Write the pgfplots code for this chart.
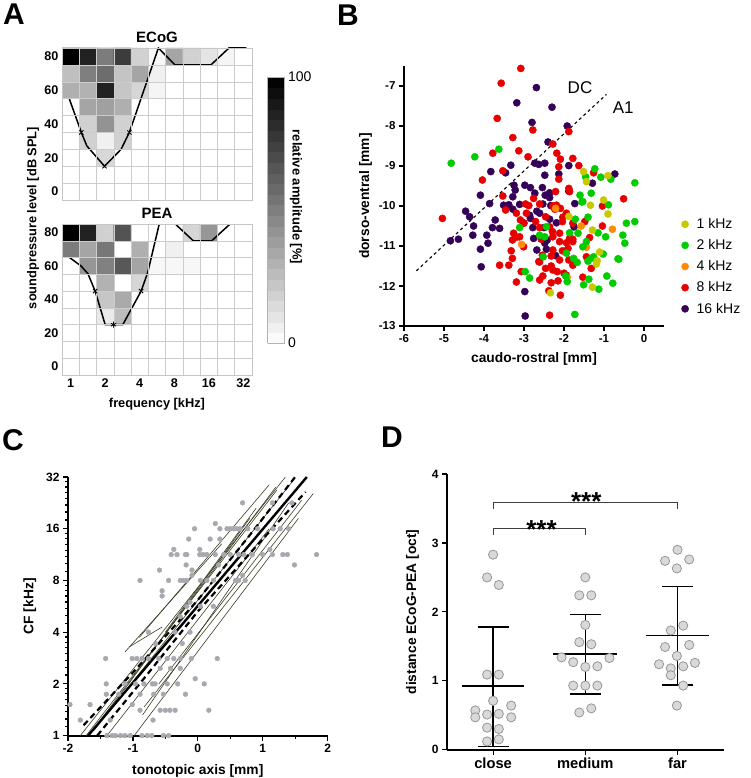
\documentclass[border=0pt]{standalone}
\usepackage{fontspec}
\setmainfont{Liberation Sans}
\usepackage{pgfplots}
\pgfplotsset{compat=1.18}
\newcommand{\fs}[1]{\fontsize{#1}{#1}\selectfont}
\definecolor{khzA}{RGB}{200,200,0}
\definecolor{khzB}{RGB}{0,205,0}
\definecolor{khzC}{RGB}{255,140,0}
\definecolor{khzD}{RGB}{232,0,0}
\definecolor{khzE}{RGB}{52,0,88}
\definecolor{ptgray}{RGB}{168,168,175}
\definecolor{thinl}{RGB}{60,60,35}
\definecolor{dfill}{RGB}{217,217,217}
\definecolor{dedge}{RGB}{150,150,150}
\pgfplotsset{
  /pgf/number format/assume math mode=true,
  gp/.style={scale only axis, axis x line*=bottom, axis y line*=left,
    axis line style={line width=1.6pt, black},
    every tick/.style={black, line width=1.2pt},
    tick align=outside, major tick length=5pt, minor tick length=3pt,
    ticklabel style={font=\bfseries\fs{12}},
    label style={font=\bfseries\fs{13.8}},
    clip=false},
  hm/.style={scale only axis, width=190pt, xmin=0, xmax=11, ymin=-5, ymax=85,
    axis line style={gray!45, line width=0.6pt},
    xtick={0.5,2.5,4.5,6.5,8.5,10.5}, xticklabels={1,2,4,8,16,32},
    ytick={0,20,40,60,80},
    major tick length=0pt, minor tick length=0pt,
    minor xtick={0,...,11}, minor ytick={-5,5,...,85},
    xminorgrids, yminorgrids, minor grid style={gray!40, line width=0.5pt},
    axis on top,
    colormap={bw}{gray(0cm)=(1); gray(1cm)=(0)},
    point meta min=0, point meta max=100,
    ticklabel style={font=\bfseries\fs{12.6}},
    label style={font=\bfseries\fs{12.8}},
    title style={font=\bfseries\fs{15}, yshift=-4pt},
  },
}
\begin{document}
\begin{tikzpicture}
\path[use as bounding box] (0pt,0pt) rectangle (750pt,-778pt);
% ---------------- Panel A : ECoG
\begin{axis}[hm, at={(62pt,-48pt)}, anchor=north west, height=152pt, xticklabels={}, title={ECoG},
  colorbar sampled, colorbar style={at={(parent axis.north east)}, anchor=north west, xshift=7pt, yshift=-29pt,
    scale only axis, width=17pt, height=266pt, ytick={0,100}, yticklabel pos=right, samples=26,
    yticklabel style={font=\fs{14}}, axis line style={gray!60}, major tick length=0pt,
    minor ytick={}, yminorgrids=false, xminorgrids=false, title={}}]
\addplot[matrix plot*, mesh/cols=11, point meta=explicit] table[row sep=\\, meta=c] {
x y c\\
0.5 0 0\\ 1.5 0 0\\ 2.5 0 0\\ 3.5 0 0\\ 4.5 0 0\\ 5.5 0 0\\ 6.5 0 0\\ 7.5 0 0\\ 8.5 0 0\\ 9.5 0 0\\ 10.5 0 0\\
0.5 10 0\\ 1.5 10 0\\ 2.5 10 0\\ 3.5 10 0\\ 4.5 10 0\\ 5.5 10 0\\ 6.5 10 0\\ 7.5 10 0\\ 8.5 10 0\\ 9.5 10 0\\ 10.5 10 0\\
0.5 20 0\\ 1.5 20 0\\ 2.5 20 15\\ 3.5 20 0\\ 4.5 20 0\\ 5.5 20 0\\ 6.5 20 0\\ 7.5 20 0\\ 8.5 20 0\\ 9.5 20 0\\ 10.5 20 0\\
0.5 30 0\\ 1.5 30 18\\ 2.5 30 6\\ 3.5 30 18\\ 4.5 30 0\\ 5.5 30 0\\ 6.5 30 0\\ 7.5 30 0\\ 8.5 30 0\\ 9.5 30 0\\ 10.5 30 0\\
0.5 40 0\\ 1.5 40 18\\ 2.5 40 42\\ 3.5 40 18\\ 4.5 40 0\\ 5.5 40 0\\ 6.5 40 0\\ 7.5 40 0\\ 8.5 40 0\\ 9.5 40 0\\ 10.5 40 0\\
0.5 50 0\\ 1.5 50 35\\ 2.5 50 37\\ 3.5 50 31\\ 4.5 50 0\\ 5.5 50 0\\ 6.5 50 0\\ 7.5 50 0\\ 8.5 50 0\\ 9.5 50 0\\ 10.5 50 0\\
0.5 60 31\\ 1.5 60 30\\ 2.5 60 86\\ 3.5 60 22\\ 4.5 60 16\\ 5.5 60 4\\ 6.5 60 0\\ 7.5 60 0\\ 8.5 60 0\\ 9.5 60 0\\ 10.5 60 0\\
0.5 70 25\\ 1.5 70 50\\ 2.5 70 57\\ 3.5 70 23\\ 4.5 70 35\\ 5.5 70 6\\ 6.5 70 0\\ 7.5 70 0\\ 8.5 70 0\\ 9.5 70 0\\ 10.5 70 0\\
0.5 80 100\\ 1.5 80 86\\ 2.5 80 51\\ 3.5 80 76\\ 4.5 80 18\\ 5.5 80 3\\ 6.5 80 35\\ 7.5 80 18\\ 8.5 80 10\\ 9.5 80 4\\ 10.5 80 0\\
};
\addplot[black, line width=1.5pt] coordinates {(0.42,55) (1.12,35) (1.44,27) (2.46,15) (3.42,25) (3.9,35) (5.58,85) (6.54,75) (8.62,75) (9.67,85) (10.67,85)};
\addplot[only marks, black, mark=x, mark size=3pt, line width=0.8pt] coordinates {(1.12,35) (2.46,15) (3.9,35)};
\end{axis}
% ---------------- Panel A : PEA
\begin{axis}[hm, at={(62pt,-224pt)}, anchor=north west, height=151pt, title={PEA}, xlabel={frequency [kHz]}, xlabel shift=4pt]
\addplot[matrix plot*, mesh/cols=11, point meta=explicit] table[row sep=\\, meta=c] {
x y c\\
0.5 0 0\\ 1.5 0 0\\ 2.5 0 0\\ 3.5 0 0\\ 4.5 0 0\\ 5.5 0 0\\ 6.5 0 0\\ 7.5 0 0\\ 8.5 0 0\\ 9.5 0 0\\ 10.5 0 0\\
0.5 10 0\\ 1.5 10 0\\ 2.5 10 0\\ 3.5 10 0\\ 4.5 10 0\\ 5.5 10 0\\ 6.5 10 0\\ 7.5 10 0\\ 8.5 10 0\\ 9.5 10 0\\ 10.5 10 0\\
0.5 20 0\\ 1.5 20 0\\ 2.5 20 0\\ 3.5 20 0\\ 4.5 20 0\\ 5.5 20 0\\ 6.5 20 0\\ 7.5 20 0\\ 8.5 20 0\\ 9.5 20 0\\ 10.5 20 0\\
0.5 30 0\\ 1.5 30 0\\ 2.5 30 8\\ 3.5 30 26\\ 4.5 30 0\\ 5.5 30 0\\ 6.5 30 0\\ 7.5 30 0\\ 8.5 30 0\\ 9.5 30 0\\ 10.5 30 0\\
0.5 40 0\\ 1.5 40 0\\ 2.5 40 22\\ 3.5 40 33\\ 4.5 40 0\\ 5.5 40 0\\ 6.5 40 0\\ 7.5 40 0\\ 8.5 40 0\\ 9.5 40 0\\ 10.5 40 0\\
0.5 50 0\\ 1.5 50 0\\ 2.5 50 30\\ 3.5 50 0\\ 4.5 50 16\\ 5.5 50 0\\ 6.5 50 0\\ 7.5 50 0\\ 8.5 50 0\\ 9.5 50 0\\ 10.5 50 0\\
0.5 60 0\\ 1.5 60 41\\ 2.5 60 49\\ 3.5 60 65\\ 4.5 60 35\\ 5.5 60 3\\ 6.5 60 3\\ 7.5 60 3\\ 8.5 60 0\\ 9.5 60 0\\ 10.5 60 0\\
0.5 70 51\\ 1.5 70 35\\ 2.5 70 53\\ 3.5 70 0\\ 4.5 70 31\\ 5.5 70 0\\ 6.5 70 6\\ 7.5 70 0\\ 8.5 70 0\\ 9.5 70 0\\ 10.5 70 0\\
0.5 80 100\\ 1.5 80 86\\ 2.5 80 18\\ 3.5 80 67\\ 4.5 80 0\\ 5.5 80 0\\ 6.5 80 0\\ 7.5 80 16\\ 8.5 80 41\\ 9.5 80 0\\ 10.5 80 0\\
};
\addplot[black, line width=1.5pt] coordinates {(0.44,65) (1.1,60) (1.5,55.4) (1.92,45) (2.5,25) (3.52,25) (4.58,45) (4.96,56) (5.63,85) (6.56,85) (7.6,75) (8.67,75) (9.73,85) (10.7,85)};
\addplot[only marks, black, mark=x, mark size=3pt, line width=0.8pt] coordinates {(1.92,45) (4.58,45)};
\addplot[only marks, black, mark=asterisk, mark size=3pt, line width=0.8pt] coordinates {(2.98,25)};
\end{axis}
\node[rotate=90, font=\bfseries\fs{12.8}] at (33pt,-218pt) {soundpressure level [dB SPL]};
\node[rotate=-90, font=\bfseries\fs{13}] at (296pt,-197pt) {relative amplitude [\%]};
% ---------------- Panel B
\begin{axis}[gp, at={(404pt,-66pt)}, anchor=north west, width=260pt, height=260pt,
  xmin=-6, xmax=0.5, ymin=-13, ymax=-6.5, xtick={-6,...,0}, ytick={-13,...,-7},
  ticklabel style={font=\bfseries\fs{11.5}},
  xlabel={caudo-rostral [mm]}, ylabel={dorso-ventral [mm]}, xlabel shift=3pt,
  reverse legend, legend cell align=left,
  legend style={at={(1.055,0.43)}, anchor=north west, draw=none, fill=none, font=\fs{14}, row sep=5.5pt,
    /tikz/every odd column/.append style={column sep=6pt}}]
\addplot[only marks, mark=*, mark size=3.6pt, color=khzE] coordinates {(-2.69,-7.04) (-3.18,-7.42) (-2.30,-7.53) (-2.80,-7.91) (-1.92,-8.0) (-2.40,-8.4) (-3.33,-8.98) (-2.73,-8.93) (-2.63,-8.96) (-2.48,-8.93) (-1.88,-8.99) (-3.83,-9.14) (-3.46,-9.17) (-0.73,-9.2) (-2.48,-9.23) (-2.13,-9.2) (-1.29,-9.43) (-3.25,-9.48) (-3.22,-9.6) (-2.98,-9.48) (-2.84,-9.54) (-2.54,-9.54) (-2.36,-9.67) (-1.88,-9.63) (-4.09,-9.73) (-3.28,-9.77) (-2.73,-9.68) (-2.47,-9.73) (-2.36,-9.79) (-3.86,-9.94) (-3.51,-9.98) (-3.38,-9.97) (-3.11,-9.96) (-2.53,-9.95) (-2.33,-9.99) (-1.73,-9.94) (-3.28,-10.08) (-4.46,-10.13) (-4.36,-10.27) (-2.86,-10.23) (-2.61,-10.18) (-2.68,-10.13) (-2.84,-10.31) (-2.36,-10.33) (-2.19,-10.42) (-3.72,-10.35) (-4.26,-10.5) (-3.01,-10.42) (-2.78,-10.54) (-2.5,-10.54) (-1.75,-10.52) (-3.61,-10.56) (-3.79,-10.54) (-3.93,-10.73) (-2.76,-10.81) (-4.84,-10.87) (-4.64,-10.83) (-4.28,-10.73) (-3.9,-10.93) (-2.42,-10.85) (-2.48,-10.93) (-2.68,-11.1) (-2.44,-11.08) (-4.09,-11.08) (-2.21,-11.24) (-4.07,-11.52) (-2.98,-12.14) (-2.97,-12.75)};
\addlegendentry{16 kHz}
\addplot[only marks, mark=*, mark size=3.6pt, color=khzD] coordinates {(-3.08,-6.56) (-3.57,-6.93) (-3.67,-7.81) (-2.78,-8.10) (-1.88,-8.14) (-3.28,-8.29) (-2.28,-8.45) (-3.13,-8.62) (-3.78,-8.68) (-2.90,-8.77) (-2.18,-8.68) (-2.09,-8.83) (-1.78,-8.81) (-1.63,-8.99) (-2.13,-9.02) (-3.53,-9.12) (-1.26,-9.17) (-2.13,-9.33) (-4.04,-9.35) (-1.88,-9.56) (-2.21,-9.64) (-1.86,-9.64) (-3.53,-9.75) (-2.76,-9.81) (-0.51,-9.82) (-2.96,-9.95) (-2.88,-9.99) (-2.61,-9.95) (-2.28,-10.0) (-2.19,-9.98) (-2.09,-10.06) (-1.04,-10.0) (-3.46,-10.1) (-3.19,-10.18) (-5.04,-10.31) (-2.94,-10.18) (-3.09,-10.35) (-2.71,-10.39) (-2.46,-10.27) (-2.03,-10.28) (-2.23,-10.08) (-1.94,-10.18) (-2.04,-10.39) (-1.78,-10.43) (-1.48,-10.39) (-2.61,-10.54) (-2.36,-10.52) (-2.29,-10.64) (-1.04,-10.5) (-3.26,-10.68) (-3.11,-10.77) (-3.19,-10.78) (-3.29,-10.85) (-2.11,-10.68) (-2.28,-10.77) (-2.57,-10.83) (-1.86,-10.81) (-1.78,-10.83) (-1.36,-10.79) (-1.94,-10.92) (-1.78,-10.89) (-2.11,-10.89) (-3.01,-11.02) (-2.28,-11.1) (-2.04,-11.12) (-1.9,-11.06) (-3.32,-11.12) (-2.54,-11.23) (-2.32,-11.25) (-2.63,-11.39) (-3.29,-11.31) (-2.11,-11.35) (-1.88,-11.35) (-1.44,-11.27) (-3.61,-11.48) (-3.38,-11.48) (-2.32,-11.5) (-2.17,-11.64) (-2.28,-11.6) (-1.78,-11.48) (-1.32,-11.56) (-2.61,-11.4) (-3.07,-11.64) (-2.46,-11.56) (-2.53,-11.75) (-2.61,-11.85) (-2.0,-11.68) (-1.94,-11.73) (-1.53,-11.78) (-2.15,-11.87) (-3.19,-11.9) (-2.32,-11.92) (-2.38,-12.12) (-2.09,-12.23) (-2.36,-12.73) (-3.0,-10.43)};
\addlegendentry{8 kHz}
\addplot[only marks, mark=*, mark size=3.6pt, color=khzC] coordinates {(-0.79,-10.58) (-3.06,-10.96) (-1.44,-11.03) (-2.21,-10.06) (-1.57,-10.5) (-1.92,-11.78)};
\addlegendentry{4 kHz}
\addplot[only marks, mark=*, mark size=3.6pt, color=khzB] coordinates {(-3.63,-8.58) (-4.23,-8.77) (-4.82,-8.93) (-1.23,-9.07) (-1.08,-9.28) (-0.83,-9.33) (-0.23,-9.42) (-1.46,-9.27) (-1.32,-9.68) (-1.53,-9.89) (-0.89,-9.97) (-1.4,-10.28) (-1.72,-10.33) (-0.44,-10.43) (-0.23,-10.39) (-3.11,-10.54) (-2.61,-10.73) (-2.48,-10.77) (-1.65,-10.68) (-1.15,-10.67) (-0.96,-10.77) (-0.53,-10.73) (-0.48,-10.93) (-1.44,-10.89) (-1.53,-11.02) (-1.94,-11.18) (-1.02,-11.2) (-1.26,-11.27) (-1.32,-11.31) (-1.76,-11.31) (-0.63,-11.33) (-1.67,-11.41) (-1.4,-11.38) (-2.97,-11.64) (-2.86,-11.8) (-1.96,-11.75) (-1.38,-11.83) (-0.93,-11.75) (-1.92,-11.89) (-1.51,-11.97) (-0.78,-11.93) (-1.13,-12.08) (-1.73,-12.71) (-1.6,-9.73) (-1.55,-9.9) (-2.44,-10.52) (-2.52,-11.27) (-0.65,-11.32) (-1.86,-10.67)};
\addlegendentry{2 kHz}
\addplot[only marks, mark=*, mark size=3.6pt, color=khzA] coordinates {(-1.51,-9.14) (-0.9,-9.24) (-1.44,-9.39) (-1.01,-9.85) (-1.34,-9.98) (-0.9,-10.2) (-1.88,-10.26) (-1.29,-10.6) (-1.11,-11.15) (-1.17,-11.37) (-1.19,-11.45) (-1.29,-12.03) (-2.34,-12.17)};
\addlegendentry{1 kHz}
\addplot[black, dashed, line width=1.1pt, forget plot] coordinates {(-5.69,-11.62) (-0.94,-7.21)};
\node[font=\fs{17}] at (axis cs:-1.6,-7.05) {DC};
\node[font=\fs{17}] at (axis cs:-0.52,-7.53) {A1};
\end{axis}
% ---------------- Panel C  (y in octaves above 1 kHz, labelled in kHz)
\begin{axis}[gp, at={(68pt,-477pt)}, anchor=north west, width=259.6pt, height=258.6pt,
  xmin=-2, xmax=2, ymin=0, ymax=5,
  ytick={0,1,2,3,4,5}, yticklabels={1,2,4,8,16,32},
  minor ytick={0.170,0.322,0.459,0.585,0.700,0.807,0.907,1.170,1.322,1.459,1.585,1.700,1.807,1.907,2.170,2.322,2.459,2.585,2.700,2.807,2.907,3.170,3.322,3.459,3.585,3.700,3.807,3.907,4.170,4.322,4.459,4.585,4.700,4.807,4.907},
  xtick={-2,...,2}, minor xtick={-1.5,-0.5,0.5,1.5},
  axis line style={line width=1.8pt},
  xlabel={tonotopic axis [mm]}, ylabel={CF [kHz]}, xlabel shift=5pt, ylabel shift=3pt]
\addplot[only marks, mark=*, mark size=2.4pt, color=ptgray] coordinates {
(0.69,4.5) (1.15,4.5) (1.45,4.5) (0.27,4.1)
(-0.05,4) (0.34,4) (0.45,4) (0.5,4) (0.55,4) (0.6,4) (0.65,4) (0.77,4) (0.92,4) (1.16,4) (1.27,4) (1.40,4)
(-0.14,3.8) (0.19,3.8) (0.34,3.8) (-0.37,3.6) (0.03,3.6) (1.11,3.6)
(-0.41,3.5) (-0.32,3.5) (-0.19,3.5) (-0.17,3.5) (0.03,3.5) (0.08,3.5) (0.14,3.5) (0.27,3.5) (0.4,3.5) (0.5,3.5) (0.63,3.5) (0.71,3.5) (0.84,3.5) (1.0,3.5) (1.15,3.5) (1.31,3.5) (1.38,3.5) (1.83,3.5)
(-0.18,3.3) (0.32,3.3) (1.49,3.3) (-0.59,3.2) (-0.09,3.2) (-0.09,3.1) (0.69,3.1)
(-0.89,3) (-0.45,3) (-0.27,3) (-0.22,3) (-0.17,3) (0.04,3) (0.14,3) (0.24,3) (0.58,3) (0.63,3) (0.73,3)
(-0.55,2.8) (-0.55,2.7) (-0.12,2.58) (0.24,2.5) (-0.17,2.5) (0.04,2.5) (-0.27,2.3)
(-0.76,2) (-0.35,2) (-0.12,2) (-0.65,1.78) (-0.24,1.78)
(-1.42,1.49) (-1.01,1.49) (-0.94,1.49) (-0.86,1.49) (-0.76,1.49) (-0.6,1.49) (-0.47,1.49) (-0.37,1.49) (-0.27,1.49) (-0.1,1.49) (0.30,1.49)
(-0.58,1.3) (-0.42,1.3) (-0.27,1.3) (-0.04,1.1)
(-1.41,1) (-1.12,1) (-0.96,1) (-0.83,1) (-0.7,1) (-0.66,1) (-0.47,1) (-0.31,1) (0.10,1)
(-1.41,0.8) (-1.22,0.8) (-0.89,0.8) (-0.68,0.8) (-0.53,0.8) (-0.19,0.8)
(-1.97,0.6) (-1.66,0.6) (-1.01,0.6)
(-0.89,0.49) (-0.58,0.49) (-0.5,0.49) (-0.43,0.49) (-0.35,0.49) (0.17,0.49)
(-1.81,0.3) (-1.35,0.3) (-0.69,0.3)
(-1.40,0) (-1.32,0) (-1.27,0) (-1.19,0) (-1.12,0) (-1.04,0) (-0.86,0) (-0.78,0) (-0.71,0) (-0.53,0) (-0.45,0)};
\addplot[thinl, line width=0.6pt] coordinates {(-1.81,0) (1.35,5)};
\addplot[thinl, line width=0.6pt] coordinates {(-1.72,0) (1.22,4.75)};
\addplot[thinl, line width=0.6pt] coordinates {(-1.60,0.1) (1.45,4.9)};
\addplot[thinl, line width=0.6pt] coordinates {(-1.12,1.62) (0.37,3.71)};
\addplot[thinl, line width=0.6pt] coordinates {(-1.05,1.72) (-0.55,2.1)};
\addplot[thinl, line width=0.6pt] coordinates {(-0.98,0) (1.55,4.2)};
\addplot[thinl, line width=0.6pt] coordinates {(-0.83,0.55) (1.78,4.68)};
\addplot[thinl, line width=0.6pt] coordinates {(-0.85,0.4) (1.4,4.5)};
\addplot[thinl, line width=0.6pt] coordinates {(-1.5,0.3) (1.2,4.8)};
\addplot[thinl, line width=0.6pt] coordinates {(-0.5,2.0) (0.9,4.4)};
\addplot[thinl, line width=0.6pt] coordinates {(-0.9,1.9) (1.1,4.85)};
\addplot[thinl, line width=0.6pt] coordinates {(-1.3,0.6) (0.8,4.2)};
\addplot[thinl, line width=0.6pt] coordinates {(-0.6,1.0) (1.6,4.55)};
\addplot[thinl, line width=0.6pt] coordinates {(-1.4,0) (1.1,4.0)};
\addplot[black, line width=2.2pt, dash pattern=on 6pt off 4pt] coordinates {(-1.76,0.2) (-1,1.22) (0,2.62) (0.8,3.875) (1.5,5)};
\addplot[black, line width=2.2pt, dash pattern=on 6pt off 4pt] coordinates {(-1.55,0) (-0.8,1.15) (0,2.40) (1,3.8) (1.66,4.71)};
\addplot[black, line width=2.4pt] coordinates {(-1.69,0) (1.68,5)};
\end{axis}
% ---------------- Panel D
\begin{axis}[gp, at={(447pt,-474pt)}, anchor=north west, width=276.6pt, height=275.7pt,
  xmin=-0.5, xmax=2.5, ymin=0, ymax=4, xtick={0,1,2}, xticklabels={close,medium,far},
  xticklabel style={font=\bfseries\fs{14.7}}, ytick={0,...,4},
  ylabel={distance ECoG-PEA [oct]}, ylabel shift=6pt]
\addplot[only marks, mark=*, mark size=4.6pt, mark options={fill=dfill, draw=dedge, line width=0.8pt}] coordinates {
(0,2.83) (-0.065,2.50) (0.062,2.39) (-0.065,1.09) (0.062,1.09) (0,0.71) (-0.193,0.57) (0.196,0.64) (-0.193,0.47) (-0.065,0.51) (0.062,0.52) (0.196,0.47) (-0.065,0.32) (0.062,0.30) (-0.065,0.12) (0.062,0.15)
(1,2.50) (0.935,2.24) (1.065,2.24) (1,1.81) (0.935,1.56) (1.065,1.53) (0.742,1.34) (1.262,1.33) (0.869,1.27) (1,1.20) (1.131,1.21) (0.869,0.93) (1,0.93) (1.131,0.93) (0.935,0.54) (1.065,0.60)
(2,2.90) (1.865,2.74) (2.127,2.76) (1.993,2.63) (1.927,1.73) (2.062,1.80) (1.865,1.49) (2.127,1.52) (1.993,1.36) (1.8,1.24) (2.189,1.26) (1.927,1.18) (2.062,1.21) (1.927,1.08) (2.062,0.93) (1.993,0.64)};
\addplot[black, line width=1.6pt] coordinates {(-0.34,0.92) (0.34,0.92)};
\addplot[black, line width=1.6pt] coordinates {(0.655,1.385) (1.345,1.385)};
\addplot[black, line width=1.6pt] coordinates {(1.655,1.655) (2.345,1.655)};
\addplot[black, line width=1.3pt] coordinates {(0,0.05) (0,1.78)};
\addplot[black, line width=1.3pt] coordinates {(-0.167,1.78) (0.167,1.78)};
\addplot[black, line width=1.3pt] coordinates {(-0.167,0.05) (0.167,0.05)};
\addplot[black, line width=1.3pt] coordinates {(1,0.81) (1,1.96)};
\addplot[black, line width=1.3pt] coordinates {(0.833,1.96) (1.167,1.96)};
\addplot[black, line width=1.3pt] coordinates {(0.833,0.81) (1.167,0.81)};
\addplot[black, line width=1.3pt] coordinates {(2,0.94) (2,2.37)};
\addplot[black, line width=1.3pt] coordinates {(1.833,2.37) (2.167,2.37)};
\addplot[black, line width=1.3pt] coordinates {(1.833,0.94) (2.167,0.94)};
\addplot[black!75, line width=1.2pt] coordinates {(0,3.12) (0,3.21) (1,3.21) (1,3.12)};
\addplot[black!75, line width=1.2pt] coordinates {(0,3.49) (0,3.59) (2,3.59) (2,3.49)};
\node[anchor=base, font=\bfseries\fs{26}] at (axis cs:0.525,3.07) {***};
\node[anchor=base, font=\bfseries\fs{26}] at (axis cs:1.01,3.47) {***};
\end{axis}
\node[font=\bfseries\fs{30}] at (14pt,-14pt) {A};
\node[font=\bfseries\fs{30}] at (348pt,-15pt) {B};
\node[font=\bfseries\fs{30}] at (13pt,-440pt) {C};
\node[font=\bfseries\fs{30}] at (392pt,-437pt) {D};
\end{tikzpicture}
\end{document}
